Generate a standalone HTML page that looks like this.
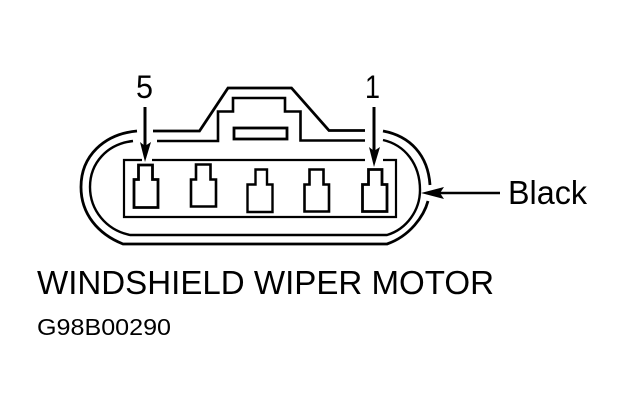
<!DOCTYPE html>
<html><head><meta charset="utf-8"><style>
html,body{margin:0;padding:0;background:#fff;width:624px;height:410px;overflow:hidden}
svg{display:block}
text{font-family:"Liberation Sans",sans-serif;fill:#000}
</style></head><body>
<svg width="624" height="410" viewBox="0 0 624 410" xmlns="http://www.w3.org/2000/svg">
<g fill="none" stroke="#000" stroke-linejoin="miter">
<!-- outer shell -->
<path stroke-width="2.8" d="M137 131C104 134 81 156 81 187C81 214 98 234 123 244H387C410 236 424 216 428 201"/>
<path stroke-width="2.8" d="M430 185C428 155 410 136 383 131"/>
<path stroke-width="2.4" d="M133 141C107 144 90 163 90 187C90 210 106 230 130 235H387C407 229 420 210 420 190C420 164 405 145 383 140"/>
<!-- housing top -->
<path stroke-width="2.8" d="M153 131H199.5L228 88H291.5L329 130.5H365"/>
<path stroke-width="2.6" d="M157 141H218V111.5H233V98H285V111.5H300.5V140.5H365"/>
<rect x="234" y="128" width="53" height="11" stroke-width="2.8"/>
<!-- inner frame -->
<path stroke-width="2.2" d="M142 160H124V217H396V160H383M365 160H152"/>
<!-- terminals -->
<path stroke-width="2.8" d="M138.5 179.5V165H152.5V179.5H158V207.5H134V179.5Z"/>
<path stroke-width="2.6" d="M196 179.5V164.5H210.5V179.5H216V206.5H191V179.5Z"/>
<path stroke-width="2.4" d="M255.5 184.5V169.5H267V184.5H272.5V212H247.5V184.5Z"/>
<path stroke-width="2.6" d="M309.5 184.5V169.5H323.5V184.5H329V211.5H304.5V184.5Z"/>
<path stroke-width="2.8" d="M368.5 184.5V169.5H382V184.5H387V211.5H362.5V184.5Z"/>
<!-- arrow shafts -->
<path stroke-width="3" d="M145 107V148"/>
<path stroke-width="3" d="M374 107V152"/>
<path stroke-width="2.4" d="M438 193H500"/>
</g>
<g fill="#000">
<path d="M145 162L140 142L145 146L151 142Z"/>
<path d="M374 167L369 147L374 151L380 147Z"/>
<path d="M421 193L444 187L440 193L444 199Z"/>
</g>
<text x="136" y="98" font-size="32" textLength="17" lengthAdjust="spacingAndGlyphs">5</text>
<text x="365" y="98" font-size="32" textLength="15" lengthAdjust="spacingAndGlyphs">1</text>
<text x="508" y="204" font-size="33" textLength="79" lengthAdjust="spacingAndGlyphs">Black</text>
<text x="37" y="294" font-size="33" textLength="457" lengthAdjust="spacingAndGlyphs">WINDSHIELD WIPER MOTOR</text>
<text x="37" y="335" font-size="23" textLength="134" lengthAdjust="spacingAndGlyphs">G98B00290</text>
</svg>
</body></html>
